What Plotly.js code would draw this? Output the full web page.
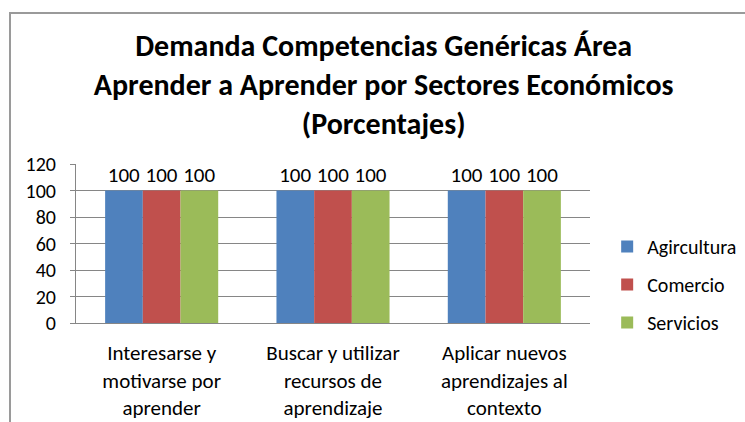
<!DOCTYPE html>
<html>
<head>
<meta charset="utf-8">
<script src="https://cdn.plot.ly/plotly-3.0.1.min.js"></script>
<style>
html,body{margin:0;padding:0;background:#fff;}
#wrap{position:relative;width:745px;height:422px;}
#chart{width:745px;height:422px;}
#frame{position:absolute;left:9px;top:12px;width:760px;height:430px;border-left:2px solid #9a9a9a;border-top:2px solid #9a9a9a;pointer-events:none;}
</style>
</head>
<body>
<div id="wrap"><div id="chart"></div><div id="frame"></div></div>
<script>
const categories = ["Interesarse y<br>motivarse por<br>aprender", "Buscar y utilizar<br>recursos de<br>aprendizaje", "Aplicar nuevos<br>aprendizajes al<br>contexto"];
const seriesNames = ["Agircultura", "Comercio", "Servicios"];
const agricultura = [100, 100, 100];
const comercio = [100, 100, 100];
const servicios = [100, 100, 100];
const yTicks = [0, 20, 40, 60, 80, 100, 120];

const FONT = "Carlito, 'Liberation Sans', Arial, sans-serif";
const colors = ["#4F81BD", "#C0504D", "#9BBB59"];
const values = [agricultura, comercio, servicios];

const traces = values.map((v, i) => ({
  type: "bar",
  name: seriesNames[i],
  x: categories,
  y: v,
  marker: {color: colors[i], line: {width: 0}},
  text: v.map(String),
  textposition: "outside",
  textfont: {family: FONT, size: 21, color: "#000"},
  cliponaxis: false,
  legendgroup: "g" + i,
  hoverinfo: "x+y+name"
}));

const layout = {
  width: 745, height: 422,
  margin: {l: 76, r: 155, t: 164, b: 99, pad: 0},
  paper_bgcolor: "#fff", plot_bgcolor: "#fff",
  font: {family: FONT, size: 21, color: "#000"},
  title: {
    text: "<b>Demanda Competencias Genéricas Área<br>Aprender a Aprender por Sectores Económicos<br>(Porcentajes)</b>",
    font: {family: FONT, size: 30, color: "#000"},
    x: 0.515, xref: "container", xanchor: "center",
    y: 0.868, yref: "container", yanchor: "middle"
  },
  barmode: "group",
  bargap: 0.34,
  bargroupgap: 0,
  xaxis: {
    type: "category",
    showline: true, linecolor: "#868686", linewidth: 1,
    ticks: "", showgrid: false,
    ticklabelstandoff: 11,
    tickfont: {family: FONT, size: 21, color: "#000"},
    automargin: false
  },
  yaxis: {
    range: [0, 120],
    tickvals: yTicks,
    ticktext: yTicks.map(String),
    showline: true, linecolor: "#868686", linewidth: 1,
    ticks: "outside", ticklen: 5, tickcolor: "#868686",
    ticklabelstandoff: 10,
    showgrid: true, gridcolor: "#868686", gridwidth: 1,
    zeroline: false,
    tickfont: {family: FONT, size: 20, color: "#000"},
    automargin: false
  },
  showlegend: true,
  legend: {
    xref: "container", yref: "container",
    x: 0.815, xanchor: "left", y: 0.326, yanchor: "middle",
    traceorder: "grouped", tracegroupgap: 9,
    font: {family: FONT, size: 20, color: "#000"},
    bgcolor: "rgba(0,0,0,0)"
  }
};

Plotly.newPlot("chart", traces, layout, {displayModeBar: false, staticPlot: true});
</script>
</body>
</html>
